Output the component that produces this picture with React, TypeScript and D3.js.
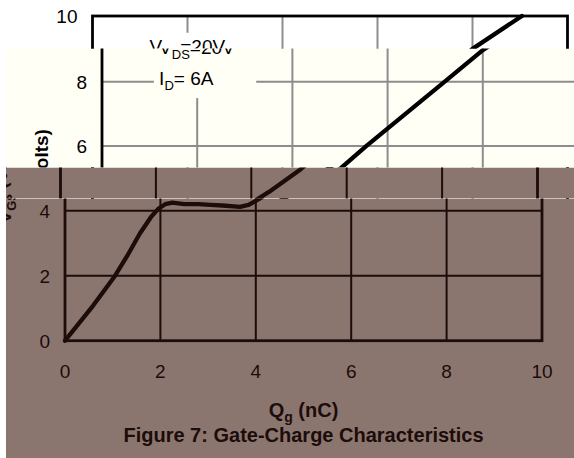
import React, { useEffect, useRef } from "react";
import * as d3 from "d3";

// Gate charge (nC) vs gate-source voltage (V)
const charge = [0, 0.3, 0.59, 0.85, 1.05, 1.3, 1.57, 1.8, 1.95, 2.1, 2.25, 2.5, 2.8, 3.04, 3.3, 3.67, 3.85, 4.09, 4.37, 5.03, 5.55, 7.2, 8.0, 9.04];
const vgs = [0, 0.55, 1.08, 1.6, 2.0, 2.6, 3.3, 3.8, 4.05, 4.2, 4.25, 4.2, 4.2, 4.18, 4.16, 4.12, 4.18, 4.38, 4.64, 5.33, 6.0, 8.0, 8.98, 10];
const xTicks = [0, 2, 4, 6, 8, 10];
const yTicks = [0, 2, 4, 6, 8, 10];
const notes = ["=20V", "= 6A"];

const W = 574;
const H = 458;
const FONT = "'Liberation Sans', Arial, sans-serif";

// the picture is made of shifted copies of one chart, each shown in its own band
const copies = [
  { x0: 92.5, x1: 567.5, y0: 338, y1: 16, bg: "#ffffff", grid: "#8d8d8d", ink: "#000", clip: null },
  { x0: 102, x1: 578, y0: 339.3, y1: 17.3, bg: "#fffff6", grid: "#8d8d8d", ink: "#000", clip: [6, 48.5, W - 6, 119] },
  { x0: 60.5, x1: 537.5, y0: 342.7, y1: 17.7, bg: "#8b766f", grid: "#1c0c0a", ink: "#1c0c0a", clip: [6, 167.5, W - 6, 31] },
  { x0: 65, x1: 542, y0: 340.7, y1: 15.7, bg: "#8b766f", grid: "#1c0c0a", ink: "#1c0c0a", clip: [6, 198.5, W - 6, H - 198.5] },
];

function drawCopy(svg, c, i) {
  const x = d3.scaleLinear().domain([0, 10]).range([c.x0, c.x1]);
  const y = d3.scaleLinear().domain([0, 10]).range([c.y0, c.y1]);
  const band = c.clip ? [c.clip[1], c.clip[1] + c.clip[3]] : [0, 48.5];
  const shows = (top, bottom) => bottom > band[0] && top < band[1];

  let g = svg.append("g");
  if (c.clip) {
    const [cx, cy, cw, ch] = c.clip;
    svg.select("defs").append("clipPath").attr("id", `band${i}`)
      .append("rect").attr("x", cx).attr("y", cy).attr("width", cw).attr("height", ch);
    g.attr("clip-path", `url(#band${i})`);
    g.append("rect").attr("x", cx).attr("y", cy).attr("width", cw).attr("height", ch).attr("fill", c.bg);
  }

  // grid
  g.selectAll(".vg").data(xTicks.slice(1, -1)).join("line")
    .attr("x1", (d) => x(d)).attr("x2", (d) => x(d))
    .attr("y1", y(0)).attr("y2", y(10))
    .attr("stroke", c.grid).attr("stroke-width", 2);
  g.selectAll(".hg").data(yTicks.slice(1, -1)).join("line")
    .attr("x1", x(0)).attr("x2", x(10))
    .attr("y1", (d) => y(d)).attr("y2", (d) => y(d))
    .attr("stroke", c.grid).attr("stroke-width", 2);

  // box behind the test conditions
  g.append("rect")
    .attr("x", x(1.09)).attr("y", y(9.48))
    .attr("width", x(3.24) - x(1.09)).attr("height", y(7.49) - y(9.48))
    .attr("fill", c.bg);

  // frame
  g.append("rect")
    .attr("x", x(0)).attr("y", y(10))
    .attr("width", x(10) - x(0)).attr("height", y(0) - y(10))
    .attr("fill", "none").attr("stroke", c.ink).attr("stroke-width", 2.8);

  // curve
  const line = d3.line().x((d) => x(d[0])).y((d) => y(d[1]));
  g.append("path")
    .attr("d", line(charge.map((q, k) => [q, vgs[k]])))
    .attr("fill", "none").attr("stroke", c.ink).attr("stroke-width", 4.3)
    .attr("stroke-linejoin", "round").attr("stroke-linecap", "round");

  const txt = g.append("g").attr("font-family", FONT).attr("fill", c.ink);

  if (shows(y(0) + 23, y(0) + 42)) {
    txt.selectAll(".xt").data(xTicks).join("text")
      .attr("x", (d) => x(d)).attr("y", y(0) + 37)
      .attr("text-anchor", "middle").attr("font-size", 19)
      .text((d) => d);
  }
  txt.selectAll(".yt").data(yTicks.filter((d) => shows(y(d) - 8, y(d) + 8))).join("text")
    .attr("x", x(0) - 15).attr("y", (d) => y(d)).attr("dy", "0.36em")
    .attr("text-anchor", "end").attr("font-size", 19)
    .text((d) => d);

  // test conditions
  if (shows(y(8.85) - 15, y(8.85) + 8)) {
    const vds = txt.append("text").attr("x", x(1.2)).attr("y", y(8.85)).attr("font-size", 19);
    vds.append("tspan").text("V");
    vds.append("tspan").attr("font-size", 13).attr("dy", 5).text("DS");
    vds.append("tspan").attr("dy", -5).text(notes[0]);
  }
  if (shows(y(7.9) - 15, y(7.9) + 8)) {
    const id = txt.append("text").attr("x", x(1.2)).attr("y", y(7.9)).attr("font-size", 19);
    id.append("tspan").text("I");
    id.append("tspan").attr("font-size", 13).attr("dy", 5).text("D");
    id.append("tspan").attr("dy", -5).text(notes[1]);
  }

  // axis titles
  const xm = (x(0) + x(10)) / 2;
  if (shows(y(0) + 60, y(0) + 82)) {
    const xl = txt.append("text").attr("x", xm).attr("y", y(0) + 76)
      .attr("text-anchor", "middle").attr("font-size", 20).attr("font-weight", "bold");
    xl.append("tspan").text("Q");
    xl.append("tspan").attr("font-size", 14).attr("dy", 5).text("g");
    xl.append("tspan").attr("dy", -5).text(" (nC)");
  }

  const ym = y(5) - 2;
  if (shows(ym - 50, ym + 50)) {
    const yl = txt.append("text")
      .attr("transform", `translate(${x(0) - 54},${ym}) rotate(-90)`)
      .attr("text-anchor", "middle").attr("font-size", 19).attr("font-weight", "bold");
    yl.append("tspan").text("V");
    yl.append("tspan").attr("font-size", 13).attr("dy", 5).text("GS");
    yl.append("tspan").attr("dy", -5).text(" (Volts)");
  }

  if (shows(y(0) + 85, y(0) + 106)) {
    txt.append("text").attr("x", xm).attr("y", y(0) + 101)
      .attr("text-anchor", "middle").attr("font-size", 20).attr("font-weight", "bold")
      .text("Figure 7: Gate-Charge Characteristics");
  }
}

export default function App() {
  const ref = useRef(null);

  useEffect(() => {
    const svg = d3.select(ref.current);
    svg.selectAll("*").remove();
    svg.append("defs");
    svg.append("rect").attr("width", W).attr("height", H).attr("fill", "#fff");
    copies.forEach((c, i) => drawCopy(svg, c, i));
  }, []);

  return (
    <svg
      ref={ref}
      width={W}
      height={H}
      style={{ position: "fixed", left: 0, top: 0, display: "block" }}
    />
  );
}
